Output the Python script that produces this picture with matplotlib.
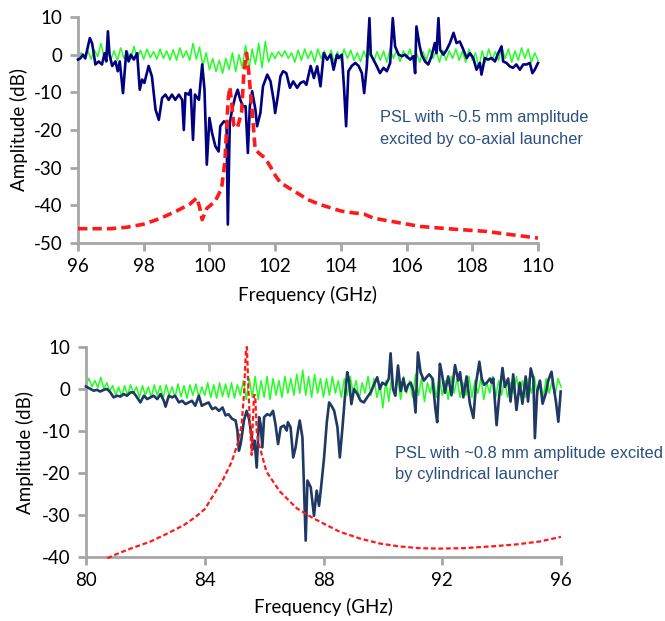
import numpy as np
import matplotlib
matplotlib.use("Agg")
import matplotlib.pyplot as plt

plt.rcParams['font.family'] = ['Lato', 'DejaVu Sans']
plt.rcParams['axes.unicode_minus'] = False

# ---------------- Top panel data ----------------
top_xticks = [96, 98, 100, 102, 104, 106, 108, 110]
top_yticks = [-50, -40, -30, -20, -10, 0, 10]

green_top_db = [
    -1.0, 0.5, -0.8, 1.0, -1.2, 1.2, -0.5, 3.0, -1.0, 1.5,
    -1.2, 1.0, -1.5, 1.8, -1.0, 1.0, -1.3, 2.2, -1.0, 1.2,
    -1.2, 1.5, -0.8, 0.8, -1.2, 1.5, -1.0, 1.0, -1.4, 1.3,
    -1.5, 1.8, -0.8, 1.0, -1.5, 3.0, -1.2, 2.0, -3.0, 0.5,
    -4.0, -1.0, -4.5, -1.5, -5.0, -1.0, -4.0, 0.5, -4.5, 0.0,
    -3.5, 2.5, -4.0, 1.5, -2.5, 3.0, -3.5, 3.5, -2.0, 0.5,
    -1.0, 0.8, -0.5, 1.0, -1.0, 0.5, -2.0, 1.2, -1.5, 1.5,
    -1.0, 1.0, -2.0, 1.5, -1.0, 1.0, -1.5, 1.2, -2.0, 0.8,
    -1.5, 1.5, -1.0, 1.2, -1.5, 0.5, -1.8, 1.0, -1.5, 1.2,
    -2.0, 0.8, -1.5, 1.0, -2.0, 1.5, -1.0, 1.2, -1.8, 1.0,
    -1.0, 1.5, -1.5, 0.5, -2.0, 0.8, -1.5, 1.5, -1.0, 1.0,
    -2.0, 1.2, -1.5, 1.0, -1.0, 1.5, -1.5, 1.0, -2.0, 1.5,
    -1.5, 0.5, -3.5, 1.0, -2.0, 1.5, -1.5, 0.8, -1.5, 1.8,
    -1.0, 1.5, -2.0, 1.0, -1.5, 1.8, -1.0, 1.5, -2.0, 0.5,
    -1.5,
]

navy_top_f = [
    96.00, 96.07, 96.15, 96.22, 96.36, 96.43, 96.53, 96.63, 96.73, 96.81,
    96.86, 96.91, 96.96, 97.04, 97.14, 97.21, 97.27, 97.37, 97.47, 97.54,
    97.61, 97.70, 97.80, 97.88, 97.95, 98.02, 98.15, 98.25, 98.36, 98.46,
    98.56, 98.66, 98.76, 98.86, 98.96, 99.07, 99.17, 99.22, 99.27, 99.37,
    99.43, 99.50, 99.56, 99.68, 99.78, 99.85, 99.92, 100.00, 100.08, 100.18,
    100.28, 100.33, 100.44, 100.52, 100.56, 100.62, 100.69, 100.79, 100.86, 100.94,
    101.02, 101.10, 101.17, 101.23, 101.30, 101.40, 101.45, 101.55, 101.63, 101.76,
    101.86, 101.96, 102.00, 102.08, 102.16, 102.24, 102.34, 102.45, 102.55, 102.67,
    102.77, 102.87, 102.95, 103.08, 103.18, 103.28, 103.38, 103.48, 103.58, 103.69,
    103.78, 103.88, 103.93, 104.03, 104.10, 104.16, 104.23, 104.33, 104.44, 104.54,
    104.64, 104.71, 104.79, 104.87, 104.91, 104.99, 105.09, 105.19, 105.30, 105.40,
    105.50, 105.58, 105.65, 105.76, 105.86, 105.95, 106.11, 106.21, 106.26, 106.30,
    106.40, 106.46, 106.56, 106.66, 106.76, 106.86, 106.91, 106.97, 107.02, 107.12,
    107.22, 107.32, 107.43, 107.52, 107.62, 107.73, 107.83, 107.93, 108.03, 108.13,
    108.23, 108.28, 108.38, 108.48, 108.59, 108.69, 108.79, 108.89, 108.94, 109.04,
    109.14, 109.24, 109.34, 109.45, 109.55, 109.65, 109.75, 109.83, 109.90, 110.00,
]
navy_top_db = [
    -1.3, -1.0, 0.0, -1.0, 4.4, 3.0, -2.6, -1.8, -2.6, 0.4,
    -1.8, 6.2, 0.0, -3.0, -1.8, -4.4, -1.8, -10.2, 0.9, -1.8,
    0.0, -1.3, 0.4, -9.3, -6.6, -7.5, -3.0, -5.8, -14.6, -17.3,
    -11.5, -10.6, -12.0, -10.6, -12.0, -10.6, -12.0, -20.0, -10.2, -10.6,
    -9.3, -22.6, -10.6, -12.0, -2.6, -9.3, -29.2, -16.8, -20.8, -24.3,
    -25.7, -19.0, -17.7, -18.1, -45.1, -18.1, -14.6, -11.0, -9.3, -12.0,
    -13.7, -13.7, -26.1, -13.7, -9.7, -14.6, -19.0, -15.5, -8.4, -5.3,
    -7.1, -12.4, -15.5, -11.1, -5.8, -4.4, -4.9, -8.8, -7.1, -8.8,
    -7.5, -7.1, -8.0, -3.0, -6.2, -3.1, -8.4, 0.4, -1.3, 0.0,
    -4.0, 0.0, -0.9, 0.0, -9.3, -19.0, -4.4, -3.0, -2.2, -3.0,
    -4.9, -10.2, -3.0, 9.7, 0.0, -1.3, -3.0, -4.9, -3.5, -4.4,
    -2.2, 9.7, 2.2, 0.0, -0.4, 0.0, -1.3, -0.4, -4.9, 7.5,
    2.2, 0.0, -1.8, -2.6, -0.4, 3.1, 0.4, 9.7, 1.3, 0.0,
    1.3, 3.1, 5.8, 3.1, 3.5, 1.3, -0.9, 0.4, -0.9, -4.0,
    -2.2, -5.3, -0.9, -1.3, -0.9, -1.8, 0.4, 2.2, -1.8, -2.2,
    -3.1, -3.5, -2.6, -4.0, -2.6, -2.6, -2.2, -4.9, -4.0, -2.2,
]

red_top_f = [
    96.0, 97.0, 97.5, 98.0, 98.5, 99.0, 99.4, 99.62, 99.70, 99.78,
    99.92, 100.17, 100.37, 100.47, 100.52, 100.57, 100.62, 100.68, 100.74, 100.85,
    100.98, 101.04, 101.10, 101.13, 101.18, 101.25, 101.32, 101.39, 101.50, 101.70,
    101.86, 102.00, 102.16, 102.50, 102.76, 103.00, 103.37, 104.00, 104.38, 104.70,
    104.99, 105.50, 106.41, 107.40, 108.40, 109.20, 110.00,
]
red_top_db = [
    -46.2, -46.2, -45.8, -45.0, -43.5, -41.5, -39.7, -38.0, -40.5, -43.8,
    -40.8, -39.0, -35.5, -28.4, -20.0, -12.0, -8.6, -13.0, -18.7, -19.5,
    -15.1, -6.0, -1.0, 0.4, -3.0, -10.0, -17.0, -25.0, -26.1, -27.5,
    -29.8, -32.0, -34.0, -35.8, -37.2, -38.5, -39.8, -41.5, -42.0, -42.3,
    -43.4, -44.2, -45.6, -46.3, -46.9, -47.8, -48.7,
]

# ---------------- Bottom panel data ----------------
bot_xticks = [80, 84, 88, 92, 96]
bot_yticks = [-40, -30, -20, -10, 0, 10]

green_bot_db = [
    1.0, 2.5, 0.5, 2.0, 0.3, 2.8, 0.0, 1.5, -0.5, 0.8,
    -1.5, 0.5, -1.8, 0.8, -1.5, 1.0, -1.0, 0.5, -2.0, 0.8,
    -1.5, 0.5, -2.0, 1.0, -1.5, 0.8, -2.2, 1.0, -1.5, 0.5,
    -2.0, 1.2, -1.8, 0.8, -2.2, 1.0, -1.5, 1.2, -2.0, 0.5,
    -1.5, 1.5, -2.0, 1.0, -2.2, 1.5, -1.8, 1.2, -2.0, 1.5,
    -2.2, 1.0, -1.5, 2.0,
    -2.5, 2.5, -2.0, 3.0, -2.5, 2.0, -2.0, 3.0, -2.5, 2.5, -1.5, 2.0,
    -2.0, 3.0, -1.0, 2.5, -1.5, 3.5, -1.0, 4.5, -1.5, 3.0, -2.0, 3.5, -1.0, 2.5,
    -2.0, 2.5, -1.5, 3.0, -1.0, 2.0, -2.0, 2.5, -1.5, 3.0,
    -1.0, 2.0, -2.5, 1.5, -1.0, 3.0, -1.5, 2.5, -2.0, 1.0,
    -4.5, 2.0, -3.0, 3.5, -1.5, 2.5, -2.5, 3.0, -1.0, 2.0,
    -2.0, 3.5, -1.5, 2.5, -3.0, 1.5, -1.0, 2.5, -2.0, 3.0,
    -1.5, 2.0, -2.5, 3.0, -1.0, 2.5, -2.0, 1.5, -1.5, 3.0,
    -2.0, 2.0, -1.0, 2.5, -2.5, 1.5, -1.0, 3.0, -2.0, 2.0,
    -1.5, 2.5, -2.0, 1.5, -1.0, 3.0, -1.5, 2.0, -2.0, 2.5,
    -1.0, 3.0, -1.5, 2.0, -2.0, 2.5, -1.0, 2.0, -1.5, 2.5,
    0.5,
]

navy_bot_f = [
    80.00, 80.15, 80.26, 80.37, 80.48, 80.60, 80.71, 80.82, 80.93, 81.05,
    81.16, 81.27, 81.38, 81.50, 81.60, 81.72, 81.83, 81.95, 82.06, 82.17,
    82.28, 82.40, 82.51, 82.62, 82.68, 82.79, 82.90, 83.00, 83.13, 83.24,
    83.35, 83.46, 83.57, 83.68, 83.80, 83.90, 84.00, 84.13, 84.25, 84.36,
    84.48, 84.60, 84.70, 84.80, 84.92, 85.04, 85.10, 85.15, 85.21, 85.26,
    85.32, 85.41, 85.49, 85.57, 85.64, 85.68, 85.75, 85.83, 85.88, 85.94,
    86.00, 86.10, 86.20, 86.30, 86.38, 86.47, 86.56, 86.67, 86.76, 86.80,
    86.89, 86.98, 87.06, 87.14, 87.20, 87.29, 87.40, 87.46, 87.57, 87.68,
    87.77, 87.85, 87.93, 88.02, 88.11, 88.19, 88.27, 88.36, 88.47, 88.55,
    88.64, 88.72, 88.80, 88.86, 88.94, 89.03, 89.14, 89.25, 89.36, 89.47,
    89.59, 89.70, 89.81, 89.90, 89.98, 90.10, 90.20, 90.26, 90.34, 90.42,
    90.51, 90.60, 90.69, 90.77, 90.85, 90.94, 91.03, 91.10, 91.18, 91.27,
    91.38, 91.47, 91.56, 91.67, 91.77, 91.83, 91.92, 91.98, 92.09, 92.20,
    92.31, 92.43, 92.54, 92.60, 92.71, 92.82, 92.93, 93.05, 93.14, 93.25,
    93.33, 93.41, 93.50, 93.61, 93.66, 93.72, 93.83, 93.92, 94.03, 94.11,
    94.22, 94.30, 94.39, 94.50, 94.61, 94.70, 94.81, 94.89, 94.98, 95.07,
    95.12, 95.20, 95.29, 95.38, 95.49, 95.57, 95.68, 95.74, 95.83, 95.91,
    95.99,
]
navy_bot_db = [
    0.6, 0.0, -0.4, -0.2, -0.6, -0.2, 0.0, -0.8, -2.0, -1.6,
    -1.8, -1.2, -1.6, -0.8, -0.8, -2.0, -3.2, -1.6, -2.4, -2.0,
    -1.6, -2.4, -1.2, -2.8, -4.2, -1.6, -2.0, -1.6, -3.2, -2.8,
    -3.6, -3.2, -2.8, -4.0, -1.6, -4.0, -3.6, -3.2, -4.8, -4.4,
    -5.2, -4.4, -6.3, -6.0, -7.1, -7.5, -9.9, -14.7, -13.1, -10.7,
    -7.5, -5.2, -7.1, -10.7, -14.3, -12.3, -18.7, -6.7, -8.3, -13.9,
    -6.7, -6.0, -6.3, -5.2, -8.3, -13.1, -9.1, -8.7, -9.9, -7.9,
    -9.1, -16.3, -13.9, -9.9, -7.5, -11.5, -36.1, -21.8, -23.4, -30.2,
    -24.2, -27.8, -22.6, -16.3, -8.0, -3.2, -4.0, -5.2, -9.1, -16.3,
    -9.1, -2.0, 4.0, 2.0, -3.6, 0.0, -1.2, -2.8, -3.2, -2.0,
    -0.8, 1.0, 2.8, 0.0, 1.5, 1.0, 2.5, 8.5, 0.0, -1.6,
    5.6, -0.5, 2.5, -0.5, 1.0, 1.5, -0.5, -5.6, 8.7, 4.0,
    2.0, 2.8, 3.5, 2.5, -4.8, -7.9, 6.0, 4.0, -0.9, 3.0,
    -1.5, 5.7, 2.0, 4.0, -2.0, 3.0, -3.5, -6.9, 1.5, 6.5,
    2.5, 1.0, 1.5, 2.5, 1.5, 2.5, -8.6, -1.5, 5.0, 0.5,
    2.5, -3.0, 3.5, -5.0, 1.5, -3.5, 3.0, -3.0, 4.9, 2.5,
    -11.7, -0.5, 2.0, -3.5, -1.0, 2.0, 4.1, 1.0, -3.0, -7.8,
    -0.6,
]

red_bot_f = [
    80.72, 81.0, 81.5, 82.18, 82.8, 83.3, 83.7, 84.0, 84.29, 84.62,
    84.91, 85.13, 85.24, 85.32, 85.39, 85.42, 85.46, 85.52, 85.58, 85.62,
    85.66, 85.70, 85.75, 85.80, 86.08, 86.53, 87.10, 87.66, 87.88, 88.55,
    89.23, 89.90, 90.58, 91.25, 91.92, 92.70, 93.60, 94.50, 95.29, 96.00,
]
red_bot_db = [
    -40.3, -39.4, -38.0, -36.3, -34.2, -32.4, -30.4, -28.6, -25.3, -21.5,
    -17.3, -12.5, -8.6, -1.4, 9.7, 10.0, 2.0, -8.0, -15.7, -8.0,
    -1.4, -1.5, -10.0, -12.5, -19.7, -24.4, -28.4, -30.8, -31.6, -34.0,
    -35.6, -36.8, -37.5, -37.9, -38.0, -37.9, -37.5, -37.0, -36.3, -35.2,
]

top_note = "PSL with ~0.5 mm amplitude\nexcited by co-axial launcher"
bot_note = "PSL with ~0.8 mm amplitude excited\nby cylindrical launcher"

# ---------------- Figure ----------------
W, H = 665, 621
fig = plt.figure(figsize=(W / 100, H / 100), dpi=100)

ax1 = fig.add_axes([78 / W, 1 - 243 / H, 460 / W, 226 / H])
ax2 = fig.add_axes([86 / W, 1 - 557 / H, 475 / W, 210 / H])

axis_gray = '#a6a6a6'
green = '#22ff22'
red = '#ff1a1a'
note_color = '#2a4f7f'


def style(ax, xlim, ylim, xticks, yticks, xlabelpad, ylabelpad):
    ax.set_xlim(*xlim)
    ax.set_ylim(*ylim)
    ax.set_xticks(xticks)
    ax.set_yticks(yticks)
    for s in ('top', 'right'):
        ax.spines[s].set_visible(False)
    for s in ('left', 'bottom'):
        ax.spines[s].set_color(axis_gray)
        ax.spines[s].set_linewidth(2.0)
    ax.tick_params(axis='both', direction='out', length=6, width=2.0,
                   color=axis_gray, labelsize=13.5, labelcolor='black', pad=5)
    ax.set_xlabel('Frequency (GHz)', fontsize=13.5, labelpad=xlabelpad)
    ax.set_ylabel('Amplitude (dB)', fontsize=13.5, labelpad=ylabelpad)
    ax.patch.set_alpha(0)


# Top
green_top_f = np.linspace(96, 110, len(green_top_db))
ax1.plot(green_top_f, green_top_db, color=green, lw=1.1, zorder=2, clip_on=False)
ax1.plot(navy_top_f, navy_top_db, color='#000080', lw=1.9, zorder=3, clip_on=False)
ax1.plot(red_top_f, red_top_db, color=red, lw=2.6, dashes=(2.6, 1.4), zorder=4,
         clip_on=False)
style(ax1, (96, 110), (-50, 10), top_xticks, top_yticks, 8, 4)
ax1.text((380 - 78) / 460, (243 - 110) / 226, top_note, transform=ax1.transAxes,
         ha='left', va='top', fontsize=11.8, color=note_color,
         family=['Liberation Sans', 'DejaVu Sans'], linespacing=1.62)

# Bottom
green_bot_f = np.linspace(80, 96, len(green_bot_db))
ax2.plot(green_bot_f, green_bot_db, color=green, lw=1.1, zorder=2, clip_on=False)
ax2.plot(navy_bot_f, navy_bot_db, color='#1f3864', lw=1.9, zorder=3, clip_on=False)
ax2.plot(red_bot_f, red_bot_db, color=red, lw=1.6, dashes=(2.2, 1.2), zorder=4,
         clip_on=False)
style(ax2, (80, 96), (-40, 10), bot_xticks, bot_yticks, 6, 6)
ax2.text((395 - 86) / 475, (557 - 446) / 210, bot_note, transform=ax2.transAxes,
         ha='left', va='top', fontsize=11.9, color=note_color,
         family=['Liberation Sans', 'DejaVu Sans'], linespacing=1.5)

fig.savefig('out.png', dpi=100)
